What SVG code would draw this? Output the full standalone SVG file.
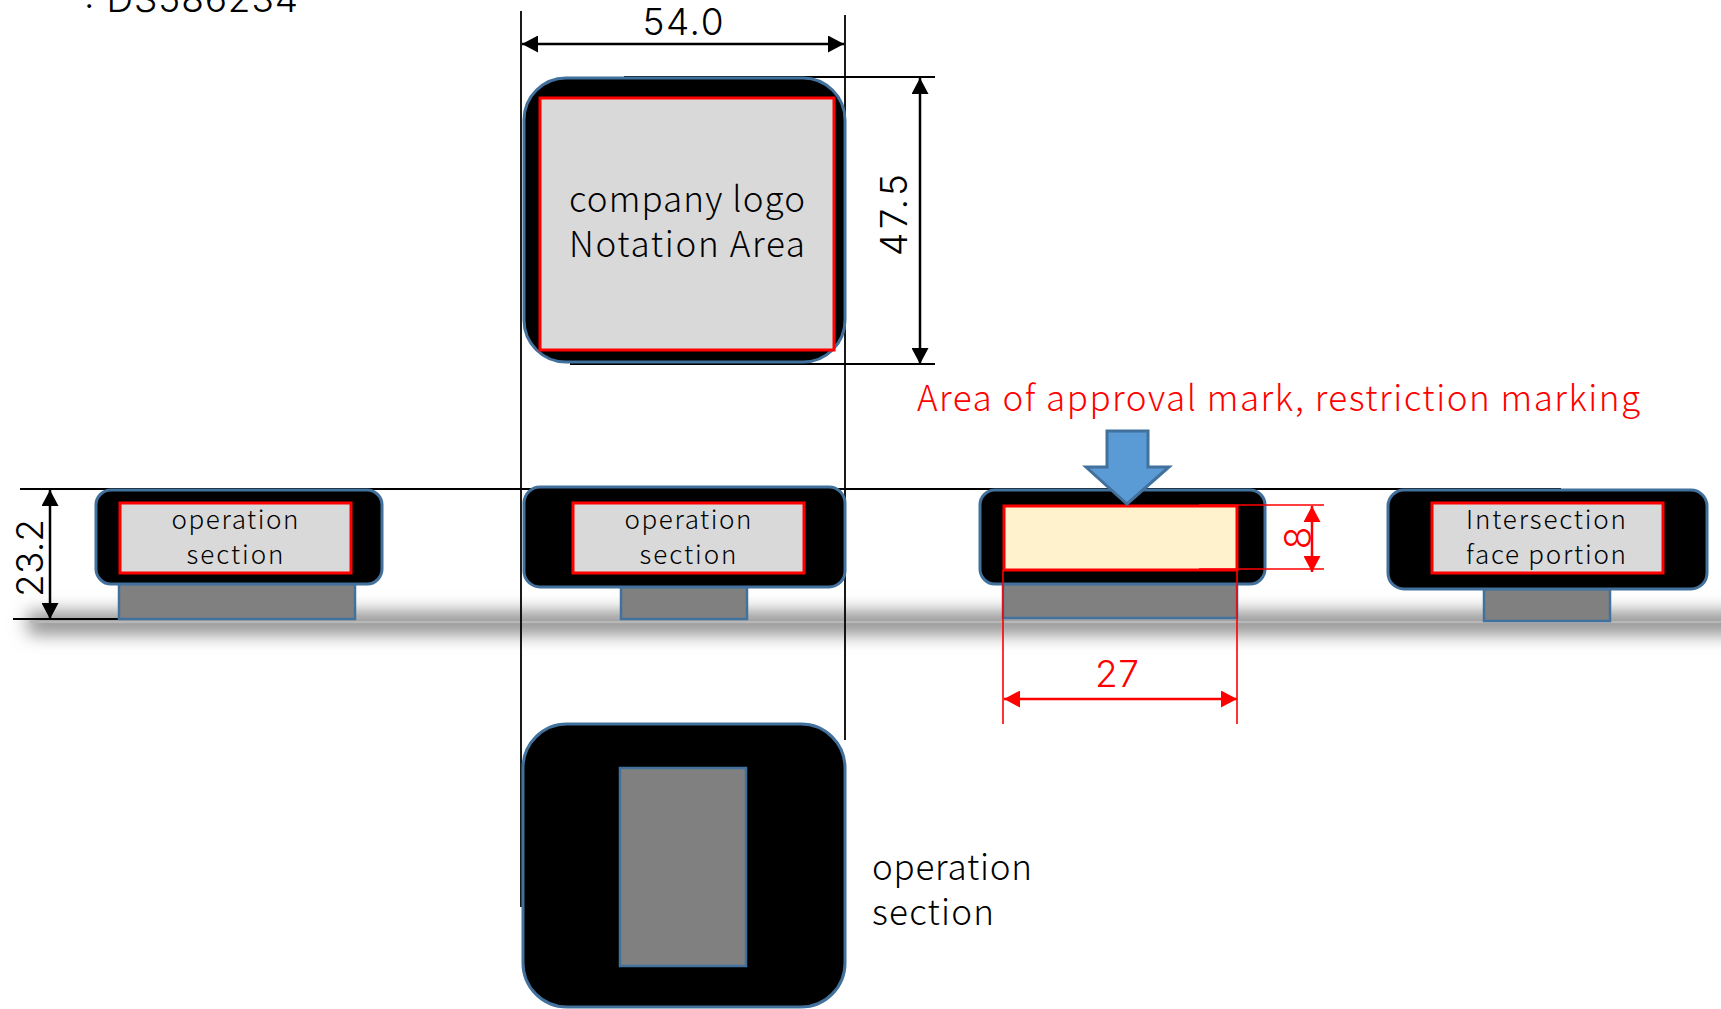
<svg xmlns="http://www.w3.org/2000/svg" width="1721" height="1009" viewBox="0 0 1721 1009">
<style>
.body{fill:#000;stroke:#41719C;stroke-width:3}
.foot{fill:#808080;stroke:#41719C;stroke-width:2.5}
.area{fill:#D9D9D9;stroke:#F00;stroke-width:3}
.ln{stroke:#000;stroke-width:1.8;fill:none}
.rl{stroke:#F00;stroke-width:1.6;fill:none}
.arr{stroke:#000;stroke-width:2.5;fill:none;marker-start:url(#ka);marker-end:url(#ka)}
.rarr{stroke:#F00;stroke-width:2.5;fill:none;marker-start:url(#ra);marker-end:url(#ra)}
text{font-family:"Noto Sans CJK JP","Noto Sans",sans-serif;font-weight:300;fill:#000}
.big{font-size:35px}
.sm{font-size:26px;text-anchor:middle}
.dim{font-family:Inter,"DejaVu Sans",sans-serif;font-size:37px}
.red{fill:#F00}
</style>
<defs>
<marker id="ka" markerUnits="userSpaceOnUse" markerWidth="16" markerHeight="17" viewBox="0 0 16 17" refX="16" refY="8.5" orient="auto-start-reverse"><path d="M0 0L16 8.5L0 17z" fill="#000"/></marker>
<marker id="ra" markerUnits="userSpaceOnUse" markerWidth="16" markerHeight="17" viewBox="0 0 16 17" refX="16" refY="8.5" orient="auto-start-reverse"><path d="M0 0L16 8.5L0 17z" fill="#F00"/></marker>
<filter id="blur" filterUnits="userSpaceOnUse" x="-40" y="560" width="1850" height="130"><feGaussianBlur stdDeviation="9"/></filter>
</defs>
<g id="ground">
<rect x="28" y="612" width="1730" height="22" fill="#8A8A8A" filter="url(#blur)"/>
<rect x="30" y="621" width="1691" height="2" fill="#B8B8B8"/>
</g>
<g id="connectors">
<path class="ln" d="M521 11V907"/>
<path class="ln" d="M845 15V740"/>
<path class="ln" d="M20 489H1561"/>
<path class="ln" d="M13 619H130"/>
<path class="ln" d="M624 77H935"/>
<path class="ln" d="M570 364H935"/>
<path class="arr" d="M522 44H844"/>
<path class="arr" d="M920 78V364"/>
<path class="arr" d="M50 490V619"/>
</g>
<text x="84" y="12" class="dim" textLength="214">: DS586234</text>
<text x="683" y="35" class="dim" text-anchor="middle" textLength="81">54.0</text>
<text transform="translate(907 215) rotate(-90)" class="dim" text-anchor="middle" textLength="82">47.5</text>
<text transform="translate(43 558) rotate(-90)" class="dim" text-anchor="middle" textLength="78">23.2</text>
<g id="top-view">
<rect class="body" x="524" y="78" width="321" height="284" rx="42" ry="42"/>
<rect class="area" x="540" y="98" width="294" height="252"/>
<text x="687" y="212" class="big" text-anchor="middle" textLength="236">company logo</text>
<text x="687" y="257" class="big" text-anchor="middle" textLength="236">Notation Area</text>
</g>
<g id="side-left">
<rect class="foot" x="119" y="584" width="236" height="35"/>
<rect class="body" x="96" y="490" width="286" height="94" rx="15"/>
<rect class="area" x="120" y="503" width="231" height="70"/>
<text x="235" y="529" class="sm" textLength="127">operation</text>
<text x="235" y="564" class="sm" textLength="97">section</text>
</g>
<g id="side-front">
<rect class="foot" x="621" y="587" width="126" height="32"/>
<rect class="body" x="524" y="487" width="321" height="100" rx="16"/>
<rect class="area" x="573" y="503" width="231" height="70"/>
<text x="688" y="529" class="sm" textLength="127">operation</text>
<text x="688" y="564" class="sm" textLength="97">section</text>
</g>
<g id="side-right">
<rect class="foot" x="1003" y="584" width="234" height="34"/>
<rect class="body" x="980" y="490" width="285" height="94" rx="15"/>
<rect class="area" style="fill:#FFF2CC" x="1004" y="506" width="233" height="64"/>
</g>
<g id="side-back">
<rect class="foot" x="1484" y="589" width="126" height="32"/>
<rect class="body" x="1388" y="490" width="319" height="99" rx="16"/>
<rect class="area" x="1432" y="503" width="231" height="70"/>
<text x="1546" y="529" class="sm" textLength="160">Intersection</text>
<text x="1546" y="564" class="sm" textLength="160">face portion</text>
</g>
<g id="bottom-view">
<rect class="body" x="523" y="724" width="322" height="283" rx="44"/>
<rect class="foot" x="620" y="768" width="126" height="198"/>
</g>
<g id="red-dimensions">
<path class="rl" d="M1199 505H1324M1199 569H1324"/>
<path class="rl" d="M1003 570V724M1237 570V724"/>
<path class="rarr" d="M1312 506V572"/>
<path class="rarr" d="M1004 699H1237"/>
</g>
<path id="arrow-down" d="M1107 431H1148V467H1169L1127 504L1086 467H1107z" fill="#5B9BD5" stroke="#41719C" stroke-width="3"/>
<text x="917" y="411" class="big red" textLength="723">Area of approval mark, restriction marking</text>
<text x="1117" y="687" class="dim red" text-anchor="middle" textLength="44">27</text>
<text transform="translate(1311 538) rotate(-90)" class="dim red" text-anchor="middle">8</text>
<text x="872" y="880" class="big" textLength="160">operation</text>
<text x="872" y="925" class="big" textLength="122">section</text>
</svg>
